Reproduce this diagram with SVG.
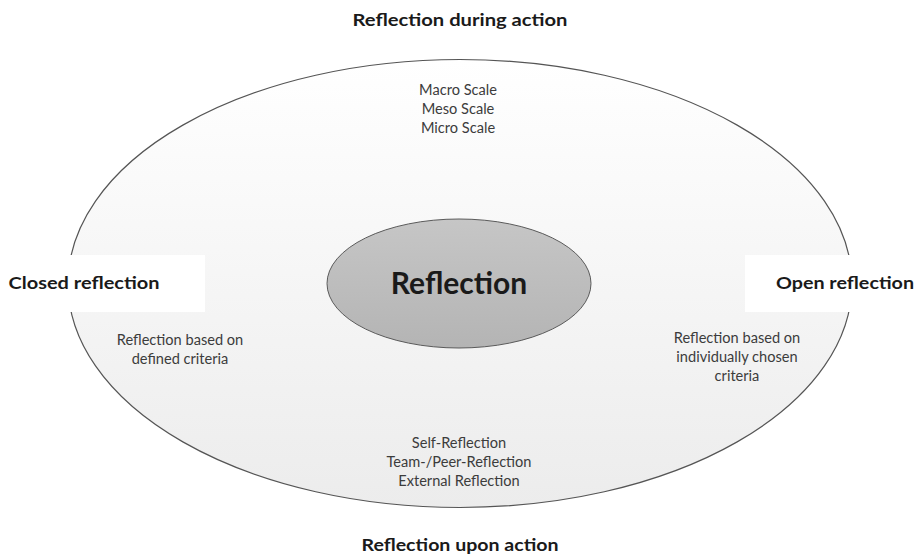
<svg xmlns="http://www.w3.org/2000/svg" width="919" height="554" viewBox="0 0 919 554">
  <defs>
    <linearGradient id="gOuter" x1="0" y1="0" x2="0" y2="1">
      <stop offset="0" stop-color="#ffffff"/>
      <stop offset="1" stop-color="#ececec"/>
    </linearGradient>
    <linearGradient id="gInner" x1="0" y1="0" x2="0" y2="1">
      <stop offset="0" stop-color="#c6c6c6"/>
      <stop offset="1" stop-color="#b4b4b4"/>
    </linearGradient>
    <style>
      .title { font-family: "Lato", "Liberation Sans", sans-serif; font-weight: bold; font-size: 17px; fill: #1a1a1a; text-anchor: middle; }
      .small { font-family: "Lato", "Liberation Sans", sans-serif; font-size: 14.6px; fill: #3c3c3c; text-anchor: middle; }
      .center { font-family: "Lato", "Liberation Sans", sans-serif; font-weight: bold; font-size: 30px; fill: #1a1a1a; text-anchor: middle; }
      .mask { fill: #ffffff; stroke: none; }
    </style>
  </defs>
  <rect width="919" height="554" fill="#ffffff"/>

  <g id="outer">
    <ellipse cx="460" cy="283.5" rx="392" ry="224" fill="url(#gOuter)" stroke="#555555" stroke-width="1.2"/>
  </g>

  <g id="connectors"/>

  <g id="closed-reflection">
    <rect class="mask" x="0" y="255" width="205" height="57"/>
    <text class="title" x="84" y="289" textLength="151" lengthAdjust="spacingAndGlyphs">Closed reflection</text>
    <text class="small" x="180" y="345">Reflection based on</text>
    <text class="small" x="180" y="364">defined criteria</text>
  </g>

  <g id="open-reflection">
    <rect class="mask" x="745" y="255" width="174" height="57"/>
    <text class="title" x="845" y="289" textLength="138" lengthAdjust="spacingAndGlyphs">Open reflection</text>
    <text class="small" x="737" y="343">Reflection based on</text>
    <text class="small" x="737" y="362">individually chosen</text>
    <text class="small" x="737" y="381">criteria</text>
  </g>

  <g id="during-action">
    <text class="title" x="460" y="26" textLength="215" lengthAdjust="spacingAndGlyphs">Reflection during action</text>
    <text class="small" x="458" y="95">Macro Scale</text>
    <text class="small" x="458" y="114">Meso Scale</text>
    <text class="small" x="458" y="133">Micro Scale</text>
  </g>

  <g id="upon-action">
    <text class="small" x="459" y="448">Self-Reflection</text>
    <text class="small" x="459" y="467">Team-/Peer-Reflection</text>
    <text class="small" x="459" y="486">External Reflection</text>
    <text class="title" x="460" y="551" textLength="197" lengthAdjust="spacingAndGlyphs">Reflection upon action</text>
  </g>

  <g id="reflection">
    <ellipse cx="459" cy="283.5" rx="132" ry="64.5" fill="url(#gInner)" stroke="#5a5a5a" stroke-width="1"/>
    <text class="center" x="459" y="294">Reflection</text>
  </g>
</svg>
